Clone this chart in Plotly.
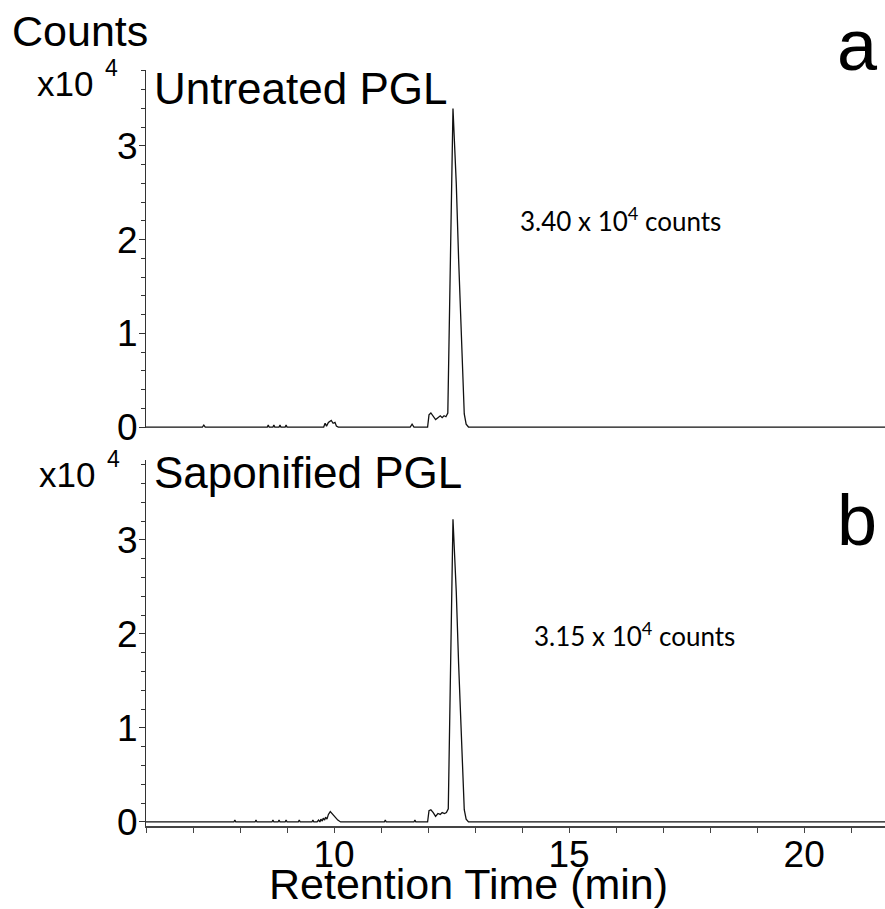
import plotly.graph_objects as go

# ---- data (intensity in units of 10^4 counts) ----
time_a = [6.00, 7.20, 7.23, 7.26, 8.58, 8.60, 8.62, 8.70, 8.72, 8.74, 8.83, 8.85, 8.87,
          8.96, 8.98, 9.00, 9.78, 9.81, 9.84, 9.88, 9.94, 9.98, 10.02, 10.05, 10.09, 10.12,
          11.62, 11.66, 11.70, 11.99, 12.02, 12.06, 12.11, 12.16, 12.21, 12.26, 12.30,
          12.34, 12.38, 12.42, 12.53, 12.60, 12.65, 12.72, 12.77, 12.81, 12.86, 21.72]
counts_a = [0.00, 0.00, 0.02, 0.00, 0.00, 0.02, 0.00, 0.00, 0.02, 0.00, 0.00, 0.02, 0.00,
            0.00, 0.02, 0.00, 0.00, 0.04, 0.01, 0.05, 0.07, 0.04, 0.05, 0.01, 0.00, 0.00,
            0.00, 0.03, 0.00, 0.00, 0.13, 0.15, 0.12, 0.08, 0.10, 0.12, 0.10,
            0.12, 0.11, 0.15, 3.40, 2.60, 1.79, 0.72, 0.14, 0.03, 0.00, 0.00]

time_b = [6.00, 7.87, 7.89, 7.91, 8.32, 8.34, 8.36, 8.68, 8.70, 8.72, 8.81, 8.83, 8.85,
          8.96, 8.98, 9.00, 9.24, 9.26, 9.28, 9.53, 9.55, 9.57, 9.64, 9.67, 9.70, 9.72,
          9.75, 9.77, 9.80, 9.82, 9.85, 9.88, 9.92, 9.97, 10.02, 10.08, 10.14, 11.07,
          11.09, 11.11, 11.70, 11.72, 11.74, 11.99, 12.02, 12.06, 12.11, 12.16, 12.21,
          12.26, 12.30, 12.35, 12.39, 12.43, 12.53, 12.60, 12.65, 12.72, 12.77, 12.81,
          12.86, 21.72]
counts_b = [0.00, 0.00, 0.02, 0.00, 0.00, 0.02, 0.00, 0.00, 0.02, 0.00, 0.00, 0.02, 0.00,
            0.00, 0.02, 0.00, 0.00, 0.02, 0.00, 0.00, 0.02, 0.00, 0.00, 0.02, 0.00, 0.03,
            0.01, 0.04, 0.02, 0.05, 0.03, 0.08, 0.11, 0.08, 0.05, 0.02, 0.00, 0.00,
            0.02, 0.00, 0.00, 0.02, 0.00, 0.00, 0.12, 0.13, 0.10, 0.06, 0.09, 0.08,
            0.10, 0.09, 0.10, 0.14, 3.22, 2.45, 1.68, 0.68, 0.13, 0.03,
            0.00, 0.00]

panel_titles = ["Untreated PGL", "Saponified PGL"]
panel_letters = ["a", "b"]
peak_labels = ["3.40 x 10<sup>4</sup> counts", "3.15 x 10<sup>4</sup> counts"]
x_major_ticks = [10, 15, 20]
x_title = "Retention Time (min)"

FONT = "Liberation Sans, Arial, sans-serif"
W, H = 885, 909
ML, MR, MT, MB = 146, 0, 70, 83

fig = go.Figure()
fig.add_trace(go.Scatter(x=time_a, y=counts_a, mode="lines",
                         line=dict(color="#111111", width=1.3),
                         xaxis="x2", yaxis="y2", showlegend=False))
fig.add_trace(go.Scatter(x=time_b, y=counts_b, mode="lines",
                         line=dict(color="#111111", width=1.3),
                         xaxis="x", yaxis="y", showlegend=False))

xr = [6.0, 21.72]
yaxis_common = dict(
    showline=True, linecolor="#333333", linewidth=1,
    ticks="outside", ticklen=6, tickcolor="#333333", tickwidth=1,
    dtick=1, tick0=0, showgrid=False, zeroline=False,
    ticklabelstandoff=-6,
    tickfont=dict(family=FONT, size=37, color="black"),
    minor=dict(dtick=0.2, ticks="outside", ticklen=4, tickcolor="#333333", showgrid=False),
)

fig.update_layout(
    width=W, height=H,
    margin=dict(l=ML, r=MR, t=MT, b=MB),
    plot_bgcolor="white", paper_bgcolor="white",
    xaxis=dict(range=xr, anchor="y", domain=[0, 1],
               showline=True, linecolor="#444444", linewidth=1.5,
               ticks="outside", ticklen=5, tickcolor="#444444",
               tickvals=x_major_ticks, showgrid=False, zeroline=False,
               ticklabelstandoff=-10,
               tickfont=dict(family=FONT, size=37, color="black"),
               minor=dict(dtick=1, tick0=0, ticks="outside", ticklen=5,
                          tickcolor="#444444", showgrid=False)),
    xaxis2=dict(range=xr, anchor="y2", domain=[0, 1], visible=False),
    yaxis=dict(range=[-0.043, 3.85], domain=[0, 0.484], anchor="x", **yaxis_common),
    yaxis2=dict(range=[-0.01, 3.81], domain=[0.5265, 1.0], anchor="x2", **yaxis_common),
)


def px(xp, yp):
    pw = W - ML - MR
    ph = H - MT - MB
    return (xp - ML) / pw, 1 - (yp - MT) / ph


annotations = []


def add_text(text, xp, yp, size, xanchor="center", family=FONT):
    x, y = px(xp, yp)
    annotations.append(dict(text=text, x=x, y=y, xref="paper", yref="paper",
                            xanchor=xanchor, yanchor="middle", showarrow=False,
                            borderpad=0,
                            font=dict(family=family, size=size, color="black")))


add_text("Counts", 11, 31, 43, xanchor="left")
add_text("x10", 36, 84, 35, xanchor="left")
add_text("4", 104, 68, 23, xanchor="left")
add_text("x10", 38, 474, 35, xanchor="left")
add_text("4", 106, 459, 23, xanchor="left")
add_text(panel_titles[0], 153, 88, 44, xanchor="left")
add_text(panel_titles[1], 153, 472, 44, xanchor="left")
add_text(panel_letters[0], 857, 45, 72)
add_text(panel_letters[1], 857, 520, 72)
add_text(peak_labels[0], 620, 219, 26, family="Lato, Carlito, sans-serif")
add_text(peak_labels[1], 634, 634, 26, family="Lato, Carlito, sans-serif")
add_text(x_title, 268, 884, 43, xanchor="left")

fig.update_layout(annotations=annotations)
fig.write_html("out.html")
